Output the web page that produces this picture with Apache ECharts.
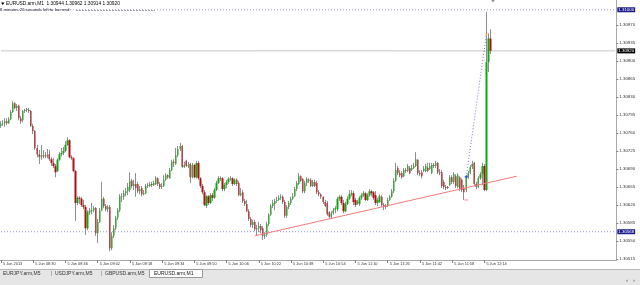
<!DOCTYPE html>
<html><head><meta charset="utf-8">
<script src="https://cdn.jsdelivr.net/npm/echarts@6/dist/echarts.min.js"></script>
<style>html,body{margin:0;padding:0;background:#fff}#c{width:640px;height:285px}</style>
</head><body><div id="c"></div>
<script>
// ---------- data ----------
const symbolName = 'EURUSD.arm,M1';
const timerText = '8 minutes 26 seconds left to bar end';
const firstBarMinute = 8 * 60 + 14;   // 08:14
const slotCount = 306;                // bars + empty right margin (chart shift)

const timeTickLabels = ['5 Jun 2013','5 Jun 08:30','5 Jun 08:46','5 Jun 09:02','5 Jun 09:18','5 Jun 09:34','5 Jun 09:50','5 Jun 10:06','5 Jun 10:22','5 Jun 10:38','5 Jun 10:54','5 Jun 11:10','5 Jun 11:26','5 Jun 11:42','5 Jun 11:58','5 Jun 12:14'];
const priceTicks = [1.30515,1.30550,1.30585,1.30620,1.30655,1.30690,1.30725,1.30760,1.30795,1.30830,1.30865,1.30900,1.30935,1.30970];

const open = [
1.30774,1.30778,1.30779,1.30783,1.30779,1.30787,1.30801,1.30818,1.30809,1.30813,
1.30789,1.30785,1.30803,1.30805,1.30805,1.30803,1.30774,1.30764,1.30731,1.30719,
1.30713,1.30717,1.30715,1.30717,1.30719,1.30709,1.30702,1.30696,1.30686,1.30708,
1.30719,1.30721,1.30725,1.30737,1.30746,1.30713,1.30711,1.30686,1.30624,1.30634,
1.30632,1.30620,1.30616,1.30575,1.30606,1.30608,1.30610,1.30614,1.30565,1.30587,
1.30610,1.30632,1.30618,1.30612,1.30616,1.30536,1.30560,1.30575,1.30595,1.30610,
1.30637,1.30636,1.30643,1.30647,1.30649,1.30667,1.30657,1.30661,1.30661,1.30647,
1.30653,1.30641,1.30643,1.30657,1.30657,1.30661,1.30659,1.30661,1.30672,1.30661,
1.30655,1.30657,1.30669,1.30678,1.30672,1.30688,1.30704,1.30700,1.30717,1.30729,
1.30735,1.30694,1.30706,1.30696,1.30700,1.30674,1.30698,1.30674,1.30702,1.30672,
1.30657,1.30645,1.30618,1.30637,1.30624,1.30639,1.30634,1.30649,1.30663,1.30672,
1.30672,1.30651,1.30659,1.30665,1.30671,1.30672,1.30661,1.30669,1.30663,1.30639,
1.30645,1.30628,1.30622,1.30608,1.30593,1.30581,1.30587,1.30573,1.30575,1.30579,
1.30575,1.30560,1.30562,1.30583,1.30601,1.30618,1.30622,1.30628,1.30630,1.30634,
1.30636,1.30626,1.30599,1.30616,1.30624,1.30632,1.30637,1.30651,1.30661,1.30676,
1.30671,1.30647,1.30663,1.30669,1.30669,1.30657,1.30665,1.30663,1.30645,1.30641,
1.30636,1.30626,1.30624,1.30606,1.30597,1.30604,1.30610,1.30612,1.30632,1.30636,
1.30624,1.30608,1.30622,1.30632,1.30641,1.30643,1.30630,1.30624,1.30622,1.30634,
1.30639,1.30643,1.30630,1.30639,1.30647,1.30645,1.30639,1.30624,1.30626,1.30636,
1.30620,1.30616,1.30618,1.30630,1.30636,1.30647,1.30667,1.30692,1.30682,1.30682,
1.30676,1.30688,1.30686,1.30692,1.30688,1.30692,1.30696,1.30708,1.30682,1.30684,
1.30686,1.30686,1.30692,1.30690,1.30682,1.30698,1.30696,1.30702,1.30684,1.30684,
1.30665,1.30655,1.30655,1.30659,1.30674,1.30665,1.30676,1.30655,1.30674,1.30669,
1.30653,1.30649,1.30674,1.30682,1.30694,1.30702,1.30661,1.30655,1.30672,1.30680,
1.30696,1.30649,1.30898,1.30944];
const high = [
1.30783,1.30785,1.30789,1.30789,1.30791,1.30805,1.30822,1.30820,1.30816,1.30815,
1.30793,1.30805,1.30807,1.30809,1.30809,1.30805,1.30778,1.30766,1.30737,1.30727,
1.30737,1.30727,1.30723,1.30729,1.30727,1.30713,1.30711,1.30700,1.30711,1.30723,
1.30731,1.30733,1.30744,1.30752,1.30748,1.30717,1.30713,1.30688,1.30637,1.30637,
1.30636,1.30630,1.30620,1.30610,1.30614,1.30624,1.30618,1.30616,1.30593,1.30614,
1.30665,1.30636,1.30622,1.30620,1.30620,1.30567,1.30581,1.30599,1.30614,1.30641,
1.30643,1.30649,1.30653,1.30663,1.30684,1.30671,1.30669,1.30682,1.30665,1.30657,
1.30657,1.30649,1.30661,1.30663,1.30665,1.30665,1.30667,1.30676,1.30674,1.30665,
1.30663,1.30678,1.30682,1.30680,1.30692,1.30708,1.30709,1.30731,1.30735,1.30741,
1.30737,1.30704,1.30708,1.30704,1.30702,1.30702,1.30700,1.30706,1.30706,1.30674,
1.30661,1.30649,1.30639,1.30639,1.30643,1.30643,1.30653,1.30667,1.30676,1.30676,
1.30674,1.30663,1.30669,1.30674,1.30676,1.30674,1.30672,1.30672,1.30667,1.30653,
1.30649,1.30632,1.30630,1.30612,1.30597,1.30591,1.30591,1.30581,1.30587,1.30583,
1.30579,1.30567,1.30587,1.30604,1.30622,1.30630,1.30632,1.30636,1.30639,1.30641,
1.30639,1.30630,1.30620,1.30628,1.30636,1.30643,1.30655,1.30667,1.30682,1.30678,
1.30672,1.30667,1.30674,1.30672,1.30672,1.30669,1.30669,1.30667,1.30649,1.30643,
1.30637,1.30630,1.30628,1.30608,1.30608,1.30614,1.30618,1.30636,1.30639,1.30639,
1.30630,1.30626,1.30637,1.30649,1.30649,1.30647,1.30634,1.30630,1.30637,1.30643,
1.30647,1.30645,1.30643,1.30651,1.30649,1.30647,1.30647,1.30634,1.30641,1.30639,
1.30624,1.30622,1.30634,1.30639,1.30651,1.30672,1.30702,1.30696,1.30688,1.30686,
1.30692,1.30692,1.30700,1.30696,1.30698,1.30702,1.30723,1.30709,1.30688,1.30688,
1.30696,1.30700,1.30702,1.30702,1.30702,1.30702,1.30706,1.30704,1.30690,1.30688,
1.30669,1.30659,1.30657,1.30678,1.30678,1.30684,1.30680,1.30682,1.30676,1.30672,
1.30659,1.30678,1.30686,1.30698,1.30706,1.30704,1.30665,1.30676,1.30684,1.30702,
1.30700,1.30996,1.30954,1.30962];
const low = [
1.30770,1.30774,1.30772,1.30776,1.30778,1.30785,1.30799,1.30807,1.30803,1.30785,
1.30778,1.30781,1.30799,1.30801,1.30799,1.30772,1.30758,1.30727,1.30713,1.30700,
1.30708,1.30711,1.30711,1.30711,1.30706,1.30696,1.30692,1.30674,1.30684,1.30706,
1.30715,1.30717,1.30723,1.30735,1.30711,1.30708,1.30684,1.30589,1.30620,1.30622,
1.30616,1.30612,1.30562,1.30571,1.30601,1.30602,1.30606,1.30560,1.30546,1.30585,
1.30608,1.30614,1.30608,1.30606,1.30530,1.30532,1.30556,1.30571,1.30591,1.30606,
1.30626,1.30630,1.30637,1.30639,1.30645,1.30653,1.30649,1.30636,1.30643,1.30641,
1.30637,1.30639,1.30641,1.30653,1.30655,1.30655,1.30657,1.30659,1.30657,1.30651,
1.30651,1.30655,1.30667,1.30671,1.30671,1.30686,1.30694,1.30698,1.30713,1.30725,
1.30692,1.30692,1.30694,1.30692,1.30663,1.30672,1.30672,1.30672,1.30669,1.30653,
1.30641,1.30618,1.30614,1.30620,1.30622,1.30628,1.30632,1.30647,1.30661,1.30667,
1.30647,1.30647,1.30653,1.30661,1.30667,1.30657,1.30659,1.30657,1.30637,1.30637,
1.30624,1.30618,1.30606,1.30589,1.30577,1.30575,1.30569,1.30560,1.30567,1.30565,
1.30552,1.30554,1.30558,1.30579,1.30599,1.30614,1.30610,1.30624,1.30628,1.30630,
1.30622,1.30595,1.30595,1.30612,1.30620,1.30630,1.30636,1.30647,1.30659,1.30665,
1.30643,1.30643,1.30657,1.30663,1.30655,1.30655,1.30655,1.30641,1.30637,1.30632,
1.30622,1.30616,1.30599,1.30593,1.30593,1.30601,1.30604,1.30608,1.30628,1.30620,
1.30604,1.30606,1.30620,1.30630,1.30637,1.30620,1.30616,1.30620,1.30618,1.30630,
1.30636,1.30628,1.30628,1.30636,1.30637,1.30630,1.30620,1.30618,1.30624,1.30616,
1.30610,1.30612,1.30616,1.30628,1.30634,1.30643,1.30665,1.30678,1.30674,1.30671,
1.30674,1.30682,1.30684,1.30680,1.30686,1.30690,1.30694,1.30678,1.30676,1.30672,
1.30684,1.30684,1.30684,1.30688,1.30680,1.30692,1.30692,1.30680,1.30678,1.30653,
1.30651,1.30649,1.30651,1.30657,1.30661,1.30661,1.30653,1.30653,1.30647,1.30645,
1.30630,1.30645,1.30671,1.30680,1.30690,1.30657,1.30651,1.30653,1.30669,1.30659,
1.30647,1.30647,1.30879,1.30914];
const close = [
1.30778,1.30779,1.30783,1.30779,1.30787,1.30801,1.30818,1.30809,1.30813,1.30789,
1.30783,1.30803,1.30805,1.30807,1.30803,1.30774,1.30764,1.30731,1.30719,1.30713,
1.30717,1.30715,1.30717,1.30715,1.30709,1.30702,1.30696,1.30684,1.30708,1.30719,
1.30721,1.30725,1.30737,1.30746,1.30713,1.30711,1.30686,1.30624,1.30634,1.30632,
1.30620,1.30616,1.30575,1.30606,1.30608,1.30610,1.30614,1.30565,1.30587,1.30610,
1.30632,1.30618,1.30612,1.30616,1.30536,1.30560,1.30575,1.30595,1.30610,1.30637,
1.30636,1.30643,1.30647,1.30655,1.30667,1.30657,1.30661,1.30653,1.30647,1.30651,
1.30641,1.30643,1.30657,1.30659,1.30661,1.30659,1.30663,1.30672,1.30661,1.30655,
1.30657,1.30669,1.30678,1.30674,1.30688,1.30704,1.30702,1.30717,1.30729,1.30735,
1.30694,1.30698,1.30696,1.30698,1.30674,1.30698,1.30674,1.30702,1.30672,1.30657,
1.30645,1.30620,1.30637,1.30624,1.30639,1.30634,1.30649,1.30663,1.30672,1.30671,
1.30651,1.30659,1.30665,1.30671,1.30672,1.30661,1.30669,1.30661,1.30639,1.30643,
1.30628,1.30622,1.30608,1.30593,1.30581,1.30587,1.30573,1.30575,1.30579,1.30571,
1.30560,1.30562,1.30583,1.30601,1.30618,1.30624,1.30628,1.30630,1.30634,1.30636,
1.30626,1.30599,1.30616,1.30624,1.30632,1.30637,1.30651,1.30663,1.30676,1.30667,
1.30647,1.30663,1.30671,1.30667,1.30657,1.30665,1.30657,1.30645,1.30641,1.30636,
1.30626,1.30618,1.30602,1.30597,1.30604,1.30610,1.30614,1.30632,1.30636,1.30624,
1.30608,1.30622,1.30632,1.30641,1.30643,1.30626,1.30620,1.30626,1.30634,1.30639,
1.30643,1.30630,1.30639,1.30647,1.30643,1.30634,1.30624,1.30630,1.30637,1.30620,
1.30616,1.30618,1.30630,1.30636,1.30647,1.30667,1.30688,1.30682,1.30678,1.30674,
1.30688,1.30686,1.30696,1.30682,1.30692,1.30696,1.30709,1.30682,1.30680,1.30676,
1.30690,1.30696,1.30686,1.30696,1.30698,1.30696,1.30702,1.30684,1.30682,1.30657,
1.30655,1.30653,1.30653,1.30674,1.30665,1.30680,1.30657,1.30678,1.30651,1.30649,
1.30645,1.30674,1.30682,1.30694,1.30700,1.30661,1.30655,1.30672,1.30680,1.30696,
1.30649,1.30898,1.30944,1.30920];

const levelHigh = 1.31000;
const levelLow = 1.30568;
const bidPrice = 1.30920;
const trendTimes = ['10:20', '12:30'];
const trendPrices = [1.30560, 1.30676];
const tradeTimes = ['12:05', '12:15'];
const tradePrices = [1.30675, 1.30952];
const stopMarkTime = '12:05';
const stopMarkPrice = 1.30630;
const tabNames = ['EURJPY.arm,M5', 'USDJPY.arm,M5', 'GBPUSD.arm,M5', 'EURUSD.arm,M1'];

// ---------- build ----------
const pad = n => String(n).padStart(2, '0');
const times = [];
for (let k = 0; k < slotCount; k++) {
  const m = firstBarMinute + k;
  times.push(pad(Math.floor(m / 60)) + ':' + pad(m % 60));
}
const ohlc = open.map((o, k) => [o, close[k], low[k], high[k]]);
const isTick = k => k % 16 === 0 && k / 16 < timeTickLabels.length;
const last = open.length - 1;
const headerText = symbolName + '  ' + [open[last], high[last], low[last], close[last]].map(v => v.toFixed(5)).join(' ');

const FONT = 'Liberation Sans';
const WICK = '#8e8e8e';

function levelSeries(name, level, lineStyle, bg) {
  return {
    type: 'line', name: name, silent: true, symbol: 'none', z: 1,
    data: [[times[0], level], [times[times.length - 1], level]],
    lineStyle: lineStyle,
    endLabel: {
      show: true, formatter: () => level.toFixed(5), distance: 2,
      fontSize: 4.4, color: '#fff', fontFamily: FONT, backgroundColor: bg, padding: [1, 1, 0, 1]
    }
  };
}

const chart = echarts.init(document.getElementById('c'), null, { renderer: 'canvas' });
chart.setOption({
  animation: false,
  backgroundColor: '#ffffff',
  grid: { left: -4, top: 0, width: 620.3, height: 260, containLabel: false },
  xAxis: {
    type: 'category', data: times, boundaryGap: true,
    axisLine: { show: true, lineStyle: { color: '#a8a8a8', width: 1 } },
    axisTick: { show: true, alignWithLabel: true, interval: (k) => isTick(k), length: 3, lineStyle: { color: '#808080' } },
    axisLabel: {
      show: true, interval: (k) => isTick(k), formatter: (v, k) => timeTickLabels[k / 16] || '',
      align: 'left', margin: 2, padding: [0, 0, 0, 2], fontSize: 3.9, color: '#333', fontFamily: FONT
    },
    splitLine: { show: false }
  },
  yAxis: {
    type: 'value', position: 'right', min: 1.30513, max: 1.31019,
    axisLine: { show: true, lineStyle: { color: '#a8a8a8', width: 1 } },
    axisTick: { show: true, customValues: priceTicks, length: 2, lineStyle: { color: '#808080' } },
    axisLabel: { show: true, customValues: priceTicks, formatter: v => v.toFixed(5), margin: 3, fontSize: 4.4, color: '#333', fontFamily: FONT },
    splitLine: { show: false }
  },
  series: [
    levelSeries('levelHigh', levelHigh, { color: '#9a9aec', type: [1, 2], width: 1 }, '#1a1a8c'),
    levelSeries('bid', bidPrice, { color: '#c8c8c8', type: 'solid', width: 1 }, '#000000'),
    levelSeries('levelLow', levelLow, { color: '#9a9aec', type: [1, 2], width: 1 }, '#1a1a8c'),
    {
      type: 'candlestick', name: 'wick', data: ohlc, barWidth: 1, silent: true, z: 2,
      itemStyle: { color: WICK, color0: WICK, borderColor: WICK, borderColor0: WICK, borderColorDoji: WICK, borderWidth: 1 }
    },
    {
      type: 'candlestick', name: 'body', data: ohlc, barWidth: 1.8, silent: true, z: 2,
      itemStyle: { color: '#12a612', color0: '#b01010', borderColor: 'rgba(0,0,0,0)', borderColor0: 'rgba(0,0,0,0)', borderColorDoji: 'rgba(0,0,0,0)', borderWidth: 0 }
    },
    {
      type: 'line', name: 'trend', data: trendTimes.map((t, k) => [t, trendPrices[k]]),
      symbol: 'none', silent: true, lineStyle: { color: '#f27a7a', width: 1 }, z: 3
    },
    {
      type: 'line', name: 'trade', data: tradeTimes.map((t, k) => [t, tradePrices[k]]),
      symbol: 'none', silent: true, lineStyle: { color: '#7a7aee', width: 1, type: [1, 2] }, z: 4
    },
    {
      type: 'scatter', name: 'marks', silent: true, z: 5,
      data: [
        { value: [tradeTimes[0], tradePrices[0]], symbol: 'rect', symbolSize: [3, 2], itemStyle: { color: '#1e3cff' } },
        { value: [tradeTimes[1], tradePrices[1]], symbol: 'rect', symbolSize: [1.5, 3], itemStyle: { color: '#f0a000' } },
        { value: [stopMarkTime, stopMarkPrice], symbol: 'rect', symbolSize: [4, 2], itemStyle: { color: '#f4b4b4' } }
      ]
    }
  ],
  graphic: [
    { type: 'polygon', shape: { points: [[1, 2.5], [4.5, 2.5], [2.75, 5]] }, style: { fill: '#000' }, silent: true },
    { type: 'text', x: 6, y: 4, style: { text: headerText, fontSize: 4.8, fontFamily: FONT, fill: '#000', verticalAlign: 'middle' }, silent: true },
    { type: 'text', x: 0, y: 10, style: { text: timerText, fontSize: 4.3, fontFamily: FONT, fill: '#000', verticalAlign: 'middle' }, silent: true },
    { type: 'line', shape: { x1: 76, y1: 10.5, x2: 155, y2: 10.5 }, style: { stroke: '#a0a0a0', lineWidth: 1, lineDash: [2, 1] }, silent: true },
    { type: 'polygon', shape: { points: [[491, 0], [495, 0], [493, 2.5]] }, style: { fill: '#9a9a9a' }, silent: true },
    // tab bar
    { type: 'rect', shape: { x: 0, y: 269, width: 640, height: 16 }, style: { fill: '#e6e6e6' }, silent: true },
    { type: 'line', shape: { x1: 0, y1: 269.5, x2: 640, y2: 269.5 }, style: { stroke: '#b8b8b8', lineWidth: 1 }, silent: true },
    { type: 'rect', shape: { x: 149.5, y: 269.5, width: 53, height: 8 }, style: { fill: '#ffffff', stroke: '#9a9a9a', lineWidth: 1 }, silent: true },
    { type: 'text', x: 3, y: 273.5, style: { text: tabNames[0], fontSize: 5, fontFamily: FONT, fill: '#333', verticalAlign: 'middle' }, silent: true },
    { type: 'text', x: 51, y: 273.5, style: { text: '|', fontSize: 5, fontFamily: FONT, fill: '#666', verticalAlign: 'middle' }, silent: true },
    { type: 'text', x: 55, y: 273.5, style: { text: tabNames[1], fontSize: 5, fontFamily: FONT, fill: '#333', verticalAlign: 'middle' }, silent: true },
    { type: 'text', x: 101, y: 273.5, style: { text: '|', fontSize: 5, fontFamily: FONT, fill: '#666', verticalAlign: 'middle' }, silent: true },
    { type: 'text', x: 105, y: 273.5, style: { text: tabNames[2], fontSize: 5, fontFamily: FONT, fill: '#333', verticalAlign: 'middle' }, silent: true },
    { type: 'text', x: 154, y: 273.5, style: { text: tabNames[3], fontSize: 5, fontFamily: FONT, fill: '#111', verticalAlign: 'middle' }, silent: true },
    { type: 'text', x: 626, y: 280, style: { text: '‹', fontSize: 6, fontFamily: FONT, fill: '#555', verticalAlign: 'middle' }, silent: true },
    { type: 'text', x: 633, y: 280, style: { text: '›', fontSize: 6, fontFamily: FONT, fill: '#555', verticalAlign: 'middle' }, silent: true }
  ]
});
</script>
</body></html>
